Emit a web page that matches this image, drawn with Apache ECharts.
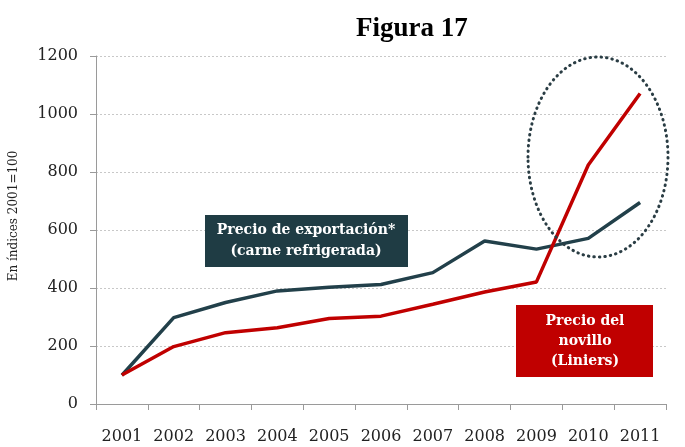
<!DOCTYPE html>
<html>
<head>
<meta charset="utf-8">
<script src="https://cdn.jsdelivr.net/npm/echarts@6/dist/echarts.min.js"></script>
<style>
  html, body { margin: 0; padding: 0; background: #fff; }
  #main { width: 685px; height: 447px; }
</style>
</head>
<body>
<div id="main"></div>
<script>
// años e índices (2001=100)
var years = ['2001', '2002', '2003', '2004', '2005', '2006', '2007', '2008', '2009', '2010', '2011'];
var exportacion = [99, 298, 350, 390, 403, 412, 453, 562, 534, 571, 695];
var novillo = [100, 198, 246, 263, 295, 303, 344, 386, 421, 824, 1071];
var yTicks = [0, 200, 400, 600, 800, 1000, 1200];

var dark = '#22404a';
var red = '#c00000';
var serif = 'DejaVu Serif';

var chart = echarts.init(document.getElementById('main'));

var option = {
    animation: false,
    title: {
        text: 'Figura 17',
        left: 351,
        top: 11,
        textStyle: {
            fontFamily: 'Liberation Serif',
            fontSize: 27,
            fontWeight: 'bold',
            color: '#000'
        }
    },
    grid: { left: 96, right: 19, top: 56, bottom: 43 },
    xAxis: {
        type: 'category',
        data: years,
        boundaryGap: true,
        axisLine: { lineStyle: { color: '#9a9a9a', width: 1 } },
        axisTick: { show: true, length: 6, lineStyle: { color: '#9a9a9a' } },
        axisLabel: {
            interval: 0,
            hideOverlap: false,
            margin: 25,
            fontFamily: serif,
            fontSize: 16,
            color: '#222'
        },
        splitLine: { show: false }
    },
    yAxis: {
        type: 'value',
        min: yTicks[0],
        max: yTicks[yTicks.length - 1],
        interval: 200,
        name: 'En índices 2001=100',
        nameLocation: 'middle',
        nameGap: 76,
        nameTextStyle: { fontFamily: serif, fontSize: 12, color: '#222', padding: [0, 0, 0, 28] },
        axisLine: { show: true, lineStyle: { color: '#9a9a9a', width: 1 } },
        axisTick: { show: true, length: 6, lineStyle: { color: '#9a9a9a' } },
        axisLabel: {
            margin: 18,
            fontFamily: serif,
            fontSize: 16,
            color: '#222',
            formatter: function (v) { return String(v); }
        },
        splitLine: { lineStyle: { color: '#c8c8c8', type: [2, 2], width: 1 } }
    },
    series: [
        {
            name: 'Precio de exportación',
            type: 'line',
            data: exportacion,
            symbol: 'none',
            lineStyle: { color: dark, width: 3.5 },
            z: 3
        },
        {
            name: 'Precio del novillo',
            type: 'line',
            data: novillo,
            symbol: 'none',
            lineStyle: { color: red, width: 3.5 },
            z: 4
        }
    ],
    graphic: [
        {
            type: 'rect',
            shape: { x: 205, y: 215, width: 203, height: 52 },
            style: { fill: '#1f3c44' },
            z: 10
        },
        {
            type: 'text',
            x: 306,
            y: 241,
            style: {
                text: 'Precio de exportación*\n(carne refrigerada)',
                fill: '#fff',
                font: 'bold 14px "DejaVu Serif"',
                align: 'center',
                verticalAlign: 'middle',
                lineHeight: 21
            },
            z: 11
        },
        {
            type: 'rect',
            shape: { x: 516, y: 305, width: 137, height: 72 },
            style: { fill: red },
            z: 10
        },
        {
            type: 'text',
            x: 585,
            y: 341,
            style: {
                text: 'Precio del\nnovillo\n(Liniers)',
                fill: '#fff',
                font: 'bold 14px "DejaVu Serif"',
                align: 'center',
                verticalAlign: 'middle',
                lineHeight: 20
            },
            z: 11
        },
        {
            type: 'ellipse',
            shape: { cx: 598, cy: 157, rx: 70, ry: 100 },
            style: {
                fill: null,
                stroke: '#2a3d44',
                lineWidth: 3,
                lineDash: [0.5, 5],
                lineCap: 'round'
            },
            z: 12
        }
    ]
};

chart.setOption(option);
</script>
</body>
</html>
